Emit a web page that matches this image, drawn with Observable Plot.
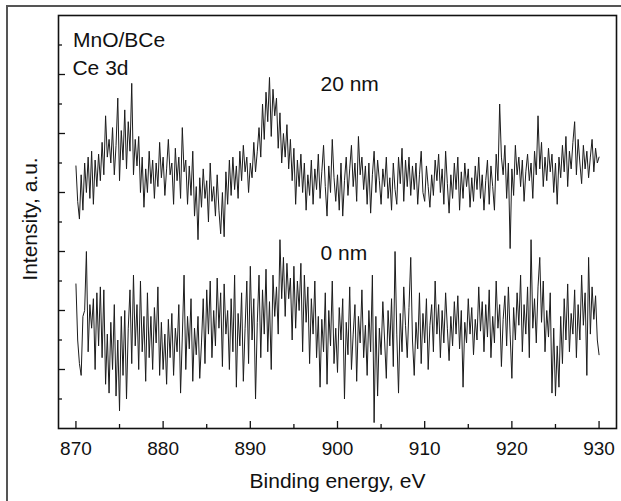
<!DOCTYPE html>
<html><head><meta charset="utf-8">
<script src="https://cdn.jsdelivr.net/npm/d3@7"></script>
<script src="https://cdn.jsdelivr.net/npm/@observablehq/plot@0.6"></script>
<style>
html,body{margin:0;padding:0;background:#fff;overflow:hidden;width:621px;height:501px;}
#wrap{position:relative;width:621px;height:501px;overflow:hidden;}
#border{position:absolute;left:6px;top:5px;width:700px;height:600px;border-left:2px solid #555;border-top:2px solid #555;}
#chart{position:absolute;left:0;top:0;}
</style></head><body><div id="wrap"><div id="border"></div><div id="chart"></div></div>
<script>
// Binding energy sampling grid (eV)
const energyStart = 870, energyStep = 0.2;

// Ce 3d intensity, 20 nm (a.u.)
const intensity20nm = [
4.45,3.85,3.55,4.3,3.7, 4.5,4.0,4.6,3.9,4.7, 3.8,4.55,4.1,4.65,4.2, 4.85,4.3,5.3,4.6,4.9,
4.5,5.1,4.3,4.8,5.6, 4.2,5.05,4.55,5.4,4.4, 5.2,4.7,5.85,4.3,4.9, 4.45,4.95,4.0,4.6,3.75,
4.4,4.0,4.7,4.15,4.55, 3.9,4.5,4.1,4.85,4.25, 4.6,3.95,4.4,4.9,4.3, 4.5,3.8,4.75,4.2,4.6,
3.9,5.1,4.35,4.55,3.8, 4.45,3.95,4.7,3.6,4.1, 3.2,4.25,3.75,4.4,3.9, 4.2,3.5,4.5,3.85,4.1,
3.6,4.3,3.7,3.3,4.0, 3.25,4.35,3.8,4.55,3.95, 4.6,4.05,4.45,3.9,4.7, 4.2,4.8,4.35,4.6,4.0,
4.5,4.25,4.85,4.35,4.7, 5.1,4.6,5.5,4.9,5.7, 5.2,5.95,4.95,5.75,5.3, 5.6,4.75,5.35,4.5,5.0,
4.6,5.15,4.4,4.9,4.2, 4.75,3.8,4.55,4.1,4.65, 4.0,4.5,3.7,4.3,3.95, 4.55,3.8,4.4,4.05,4.65,
3.9,4.35,4.8,4.1,3.6, 4.45,4.0,4.9,4.25,3.85, 4.3,3.7,4.5,3.6,4.2, 4.6,3.95,4.4,4.8,4.1,
4.5,3.85,4.95,4.3,4.6, 4.05,4.45,3.8,4.5,3.65, 4.3,4.7,4.0,4.55,4.2, 3.8,4.4,4.1,4.6,3.9,
4.25,3.7,4.5,4.05,3.8, 4.6,4.15,4.75,3.85,4.55, 4.1,4.6,3.95,4.45,4.05, 4.5,3.8,4.3,4.7,4.0,
3.85,4.45,4.1,3.75,4.3, 3.95,4.55,4.2,4.65,4.0, 4.4,3.8,4.7,4.15,3.65, 4.3,3.9,4.5,4.05,4.6,
3.7,4.35,3.9,4.5,4.1, 4.4,3.75,4.25,3.85,4.45, 4.05,4.6,3.9,4.3,3.7, 4.2,4.55,3.8,4.45,4.1,
3.7,4.65,4.2,5.5,4.6, 4.3,4.8,3.9,4.5,3.05, 4.4,3.95,4.8,4.3,4.6, 4.1,4.55,3.85,4.35,4.65,
4.2,4.5,3.9,4.7,4.3, 5.3,4.4,4.85,4.1,4.6, 4.2,4.75,4.35,4.65,4.0, 4.5,3.8,4.6,4.25,4.8,
4.35,4.95,4.1,4.7,4.4, 4.85,5.2,4.3,4.9,4.5, 4.15,4.8,4.4,4.7,4.25, 4.6,4.9,4.35,4.75,4.5,
4.6
];

// Ce 3d intensity, 0 nm (a.u.)
const intensity0nm = [
2.45,1.5,1.1,0.9,1.9, 2.0,3.0,1.3,2.1,1.7, 2.2,1.0,2.3,1.4,2.4, 1.2,2.35,0.75,1.6,0.6,
1.8,1.0,2.1,0.55,1.5, 0.3,1.9,0.9,2.0,0.5, 1.7,2.35,1.1,2.6,1.4, 2.1,1.0,2.5,1.3,1.9,
0.8,2.3,1.2,1.9,1.0, 2.05,1.45,2.4,0.9,1.8, 1.0,1.6,0.75,1.85,1.2, 1.95,0.9,1.7,1.3,2.1,
0.6,1.55,2.6,1.0,1.9, 1.35,2.2,0.8,1.7,1.25, 1.9,0.85,1.45,2.2,1.1, 2.35,1.6,2.5,1.2,2.0,
1.4,2.55,1.7,2.3,1.05, 2.45,1.6,2.0,1.0,2.2, 1.3,2.6,0.7,1.95,1.4, 2.3,0.8,1.7,2.5,1.1,
2.75,1.5,2.2,0.5,1.8, 2.6,1.2,2.35,1.6,2.7, 1.3,2.15,1.0,2.6,1.9, 2.4,1.6,3.2,2.2,2.9,
1.9,2.8,2.2,2.55,1.5, 2.75,1.7,2.5,2.0,2.8, 1.3,2.6,1.8,2.4,1.1, 2.2,1.6,2.5,1.2,1.9,
0.7,1.85,1.3,2.3,0.75, 2.0,1.4,2.5,1.1,1.7, 0.95,2.05,1.5,2.2,0.5, 1.8,1.25,2.4,1.0,1.6,
2.1,0.8,1.9,1.45,2.35, 1.2,1.75,0.9,2.0,1.3, 2.6,0.1,1.9,0.55,1.7, 1.25,2.15,1.5,0.85,2.0,
1.4,2.2,1.05,3.0,1.6, 0.6,1.95,1.3,2.4,1.75, 1.2,2.05,2.9,1.5,0.9, 1.8,1.35,2.3,1.1,1.95,
1.45,2.2,1.0,1.75,2.1, 1.3,2.5,1.6,2.1,1.2, 2.0,1.45,2.3,1.7,1.15, 1.9,1.4,2.15,1.6,2.25,
1.35,2.0,0.7,1.8,1.45, 2.2,1.6,2.05,1.25,1.85, 1.5,2.4,1.65,2.15,1.3, 2.1,1.55,2.35,1.2,1.9,
1.45,2.5,1.7,2.1,1.05, 1.85,2.25,1.4,2.4,1.6, 0.85,2.05,1.5,2.3,1.75, 2.6,1.3,2.1,1.6,2.4,
1.2,3.2,1.7,2.2,1.45, 2.4,2.9,1.8,2.5,1.3, 2.0,1.55,2.3,0.6,1.7, 0.55,1.4,0.7,1.9,1.1,
2.2,1.5,2.45,1.3,1.95, 1.6,2.35,1.2,2.1,1.5, 2.6,1.75,2.3,0.9,2.9, 1.6,2.4,1.85,2.25,1.5,
1.25
];

// Axis ticks
const xMajor = [870, 880, 890, 900, 910, 920, 930];
const xMinor = [875, 885, 895, 905, 915, 925];
const yMajor = [1, 2, 3, 4, 5, 6];
const yMinor = [0.5, 1.5, 2.5, 3.5, 4.5, 5.5, 6.5];

// Annotations
const noteText = ["MnO/BCe", "Ce 3d", "20 nm", "0 nm"];
const noteX = [869.66, 869.6, 898.05, 898.05];
const noteY = [6.46, 6.0, 5.72, 2.85];

const energies = intensity20nm.map((_, i) => +(energyStart + i * energyStep).toFixed(1));
const rows20 = energies.map((e, i) => ({e, v: intensity20nm[i]}));
const rows0 = energies.map((e, i) => ({e, v: intensity0nm[i]}));
const notes = noteText.map((t, i) => ({t, x: noteX[i], y: noteY[i]}));

const W = 621, H = 501, mL = 58, mR = 5, mT = 15, mB = 73;
const innerW = W - mL - mR, innerH = H - mT - mB;
const ink = "#111";

const chart = Plot.plot({
  width: W, height: H,
  marginLeft: mL, marginRight: mR, marginTop: mT, marginBottom: mB,
  style: {fontFamily: "'Liberation Sans', Arial, sans-serif", background: "transparent", color: ink},
  x: {domain: [868, 932]},
  y: {domain: [0, 7], axis: null},
  marks: [
    Plot.line(rows20, {x: "e", y: "v", stroke: "#1c1c1c", strokeWidth: 1}),
    Plot.line(rows0, {x: "e", y: "v", stroke: "#1c1c1c", strokeWidth: 1}),
    Plot.tickX(xMinor, {x: d => d, insetTop: innerH - 4, stroke: ink, strokeWidth: 1.3}),
    Plot.tickX(xMajor, {x: d => d, insetTop: innerH - 7, stroke: ink, strokeWidth: 1.3}),
    Plot.tickY(yMinor, {y: d => d, insetRight: innerW - 4, stroke: ink, strokeWidth: 1.3}),
    Plot.tickY(yMajor, {y: d => d, insetRight: innerW - 7, stroke: ink, strokeWidth: 1.3}),
    Plot.axisX({ticks: xMajor, tickSize: 0, tickPadding: 13, fontSize: 19, label: null, tickFormat: d => String(d)}),
    Plot.frame({stroke: ink, strokeWidth: 1.6}),
    Plot.text(notes, {x: "x", y: "y", text: "t", textAnchor: "start", lineAnchor: "bottom", fontSize: 21, fill: ink}),
    Plot.text(["Binding energy, eV"], {text: d => d, frameAnchor: "bottom", dy: 53, textAnchor: "middle", lineAnchor: "middle", fontSize: 21, fill: ink}),
    Plot.text(["Intensity, a.u."], {text: d => d, frameAnchor: "left", dx: -28, dy: -3, rotate: -90, textAnchor: "middle", lineAnchor: "middle", fontSize: 21, fill: ink})
  ]
});
document.getElementById("chart").appendChild(chart);
</script>
</body></html>
